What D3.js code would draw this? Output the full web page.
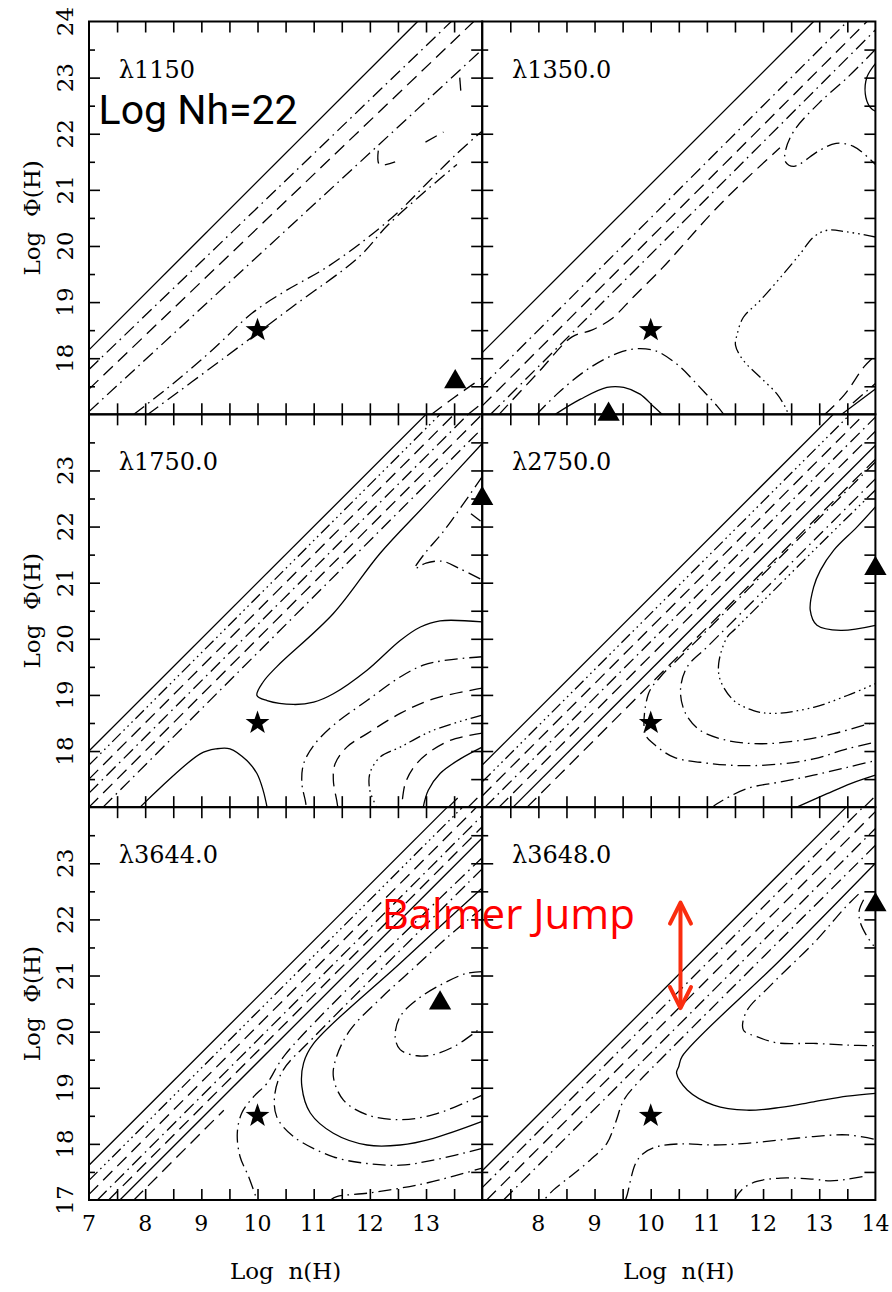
<!DOCTYPE html>
<html>
<head>
<meta charset="utf-8">
<script src="https://cdn.jsdelivr.net/npm/d3@7"></script>
<style>
  body { margin: 0; background: #fff; }
  svg { display: block; }
  .ser { font-family: "DejaVu Serif", "Liberation Serif", serif; fill: #000; }
  .sans { font-family: "Open Sans", "Noto Sans", sans-serif; }
  .note { font-family: Roboto, "Open Sans", sans-serif; }
</style>
</head>
<body>
<svg id="chart" width="892" height="1292"></svg>
<script>
// ---------- data (log n(H), log Φ(H)) ----------
const wavelengths = ["λ1150", "λ1350.0", "λ1750.0", "λ2750.0", "λ3644.0", "λ3648.0"];
const xTickLabelsLeft = [7, 8, 9, 10, 11, 12, 13];
const xTickLabelsRight = [8, 9, 10, 11, 12, 13, 14];
const yTickLabelsTop = [18, 19, 20, 21, 22, 23, 24];
const yTickLabelsMid = [18, 19, 20, 21, 22, 23];
const yTickLabelsBottom = [17, 18, 19, 20, 21, 22, 23];
const stars = [[10, 18.5], [10, 18.5], [10, 18.5], [10, 18.5], [10, 18.5], [10, 18.5]];
const triangles = [[13.52, 17.58], [9.25, 17.0], [14.0, 22.5], [14.0, 21.25], [13.25, 20.51], [14.0, 22.26]];

// contour lines; level picks the line style (1 solid, 2 dashed, 3 dash-dot, 5 dash-dot-dot-dot)
const contours1150 = [
  { level: 1, pts: [[7, 18.15], [12.85, 24]] },
  { level: 3, pts: [[7, 17.8], [13.45, 24]] },
  { level: 2, pts: [[7, 17.45], [13.85, 24]] },
  { level: 3, pts: [[7, 17.05], [14, 23.5]] },
  { level: 3, pts: [[7.8, 17.0], [8.5, 17.55], [9.2, 18.15], [9.9, 18.8], [10.5, 19.2], [11.2, 19.6], [11.9, 20.1], [12.5, 20.6], [13.0, 21.1], [13.5, 21.6], [14.0, 22.05]] },
  { level: 3, pts: [[8.05, 17.0], [9.4, 18.0], [10.6, 18.9], [11.8, 19.8], [12.3, 20.35], [12.9, 20.9], [13.55, 21.45]] },
  { level: 2, pts: [[12.15, 21.7], [12.17, 21.45], [12.45, 21.5]] },
  { level: 2, pts: [[12.99, 21.85], [13.31, 22.03]] },
  { level: 2, pts: [[13.6, 23.0], [13.62, 22.75]] },
  { level: 2, pts: [[13.1, 17.0], [13.5, 17.3], [14, 17.65]] },
  { level: 3, pts: [[13.75, 17.0], [14, 17.2]] }
];

const contours1350 = [
  { level: 1, pts: [[7, 18.1], [12.9, 24]] },
  { level: 3, pts: [[7, 17.5], [13.5, 24]] },
  { level: 2, pts: [[7, 17.15], [13.85, 24]] },
  { level: 3, pts: [[7.15, 17], [14, 23.85]] },
  { level: 3, pts: [[14.0, 23.5], [13.5, 23.0], [13.0, 22.55], [12.55, 22.05], [12.4, 21.7], [12.4, 21.5], [12.55, 21.42], [13.0, 21.7], [13.3, 21.83], [13.6, 21.78], [13.9, 21.55], [14, 21.45]] },
  { level: 1, pts: [[14.0, 23.25], [13.85, 23.01], [13.82, 22.71], [13.9, 22.48], [14.0, 22.4]] },
  { level: 2, pts: [[7.3, 17.0], [8.0, 17.75], [8.6, 18.38], [8.95, 18.5], [9.3, 18.7], [9.7, 19.1], [10.2, 19.6], [10.65, 20.1], [11.1, 20.6], [11.6, 21.1], [12.3, 21.75]] },
  { level: 3, pts: [[7.97, 17.0], [8.33, 17.36], [8.8, 17.75], [9.19, 17.99], [9.5, 18.12], [9.76, 18.17], [10.02, 18.15], [10.2, 18.08], [10.53, 17.84], [10.82, 17.54], [11.18, 17.15], [11.3, 17.0]] },
  { level: 1, pts: [[8.3, 17.0], [8.75, 17.27], [9.22, 17.48], [9.52, 17.48], [9.81, 17.36], [10.05, 17.14], [10.2, 17.0]] },
  { level: 5, pts: [[14.0, 20.16], [13.5, 20.25], [13.14, 20.28], [12.9, 20.16], [12.66, 19.86], [12.31, 19.44], [11.95, 19.03], [11.65, 18.73], [11.54, 18.43], [11.51, 18.23], [11.65, 17.96], [11.95, 17.66], [12.25, 17.36], [12.4, 17.12], [12.45, 17.0]] },
  { level: 1, pts: [[13.4, 17.0], [14, 17.45]] },
  { level: 2, pts: [[13.1, 17.0], [13.45, 17.35], [13.8, 17.85], [14, 18.05]] },
  { level: 3, pts: [[13.6, 17.2], [14, 17.55]] }
];

const contours1750 = [
  { level: 1, pts: [[7, 18], [13, 24]] },
  { level: 5, pts: [[7, 17.75], [13.25, 24]] },
  { level: 2, pts: [[7, 17.5], [13.5, 24]] },
  { level: 3, pts: [[7, 17.25], [13.75, 24]] },
  { level: 2, pts: [[7, 17], [14, 24]] },
  { level: 3, pts: [[7.25, 17], [14, 23.75]] },
  { level: 1, pts: [[14.0, 20.3], [13.25, 20.32], [12.9, 20.21], [12.54, 19.97], [11.95, 19.44], [11.35, 19.02], [11.0, 18.87], [10.64, 18.83], [10.17, 18.9], [9.99, 18.99], [10.1, 19.23], [10.34, 19.5], [11.35, 20.45], [12.18, 21.52], [13.0, 22.4], [14, 23.48]] },
  { level: 1, pts: [[7.91, 17.0], [8.98, 17.95], [9.27, 18.04], [9.51, 18.04], [9.81, 17.83], [9.99, 17.6], [10.1, 17.3], [10.17, 17.0]] },
  { level: 3, pts: [[14.0, 22.89], [13.3, 21.9], [13.0, 21.55], [12.8, 21.25], [13.0, 21.35], [13.3, 21.38], [13.6, 21.25], [14.0, 21.05]] },
  { level: 2, pts: [[13.8, 22.23], [13.97, 22.1]] },
  { level: 3, pts: [[14.0, 19.68], [13.37, 19.62], [12.95, 19.53], [12.54, 19.32], [11.95, 18.9], [11.35, 18.46], [11.0, 18.1], [10.82, 17.77], [10.79, 17.42], [10.85, 17.12], [10.87, 17.0]] },
  { level: 2, pts: [[14.0, 19.12], [13.13, 18.93], [12.54, 18.67], [11.95, 18.31], [11.59, 18.07], [11.38, 17.77], [11.35, 17.48], [11.41, 17.12], [11.43, 17.0]] },
  { level: 5, pts: [[14.0, 18.64], [13.13, 18.37], [12.54, 18.07], [12.18, 17.89], [12.0, 17.6], [12.0, 17.3], [12.09, 17.06], [12.11, 17.0]] },
  { level: 2, pts: [[14.0, 18.32], [13.43, 18.19], [13.02, 17.95], [12.78, 17.71], [12.63, 17.42], [12.57, 17.06], [12.56, 17.0]] },
  { level: 1, pts: [[14.0, 18.07], [13.61, 17.86], [13.25, 17.6], [13.04, 17.3], [12.95, 17.0]] },
  { level: 2, pts: [[13.4, 17.0], [13.65, 17.25]] },
  { level: 2, pts: [[13.75, 17.0], [14, 17.25]] }
];

const contours2750 = [
  { level: 1, pts: [[7, 17.75], [13.25, 24]] },
  { level: 5, pts: [[7, 17.45], [13.55, 24]] },
  { level: 2, pts: [[7, 17.2], [13.8, 24]] },
  { level: 3, pts: [[7.05, 17], [14, 23.95]] },
  { level: 2, pts: [[7.3, 17], [14, 23.7]] },
  { level: 1, pts: [[7.55, 17], [14, 23.45]] },
  { level: 2, pts: [[7.8, 17], [14, 23.2]] },
  { level: 3, pts: [[14.0, 23.15], [12.0, 21.15], [10.6, 19.75], [10.17, 19.32], [9.96, 19.02], [9.9, 18.31], [10.05, 18.13], [10.41, 17.89], [10.88, 17.8], [11.6, 17.74], [12.31, 17.77], [12.9, 17.86], [13.5, 18.04], [14.0, 18.16]] },
  { level: 3, pts: [[14.0, 22.85], [13.0, 21.85], [12.0, 20.85], [11.0, 19.85], [10.65, 19.5], [10.53, 19.08], [10.62, 18.67], [10.88, 18.37], [11.36, 18.19], [11.95, 18.13], [12.66, 18.19], [13.26, 18.31], [14.0, 18.52]] },
  { level: 5, pts: [[14.0, 22.65], [13.0, 21.67], [12.0, 20.67], [11.5, 20.17], [11.36, 20.03], [11.21, 19.56], [11.24, 19.26], [11.48, 18.9], [11.83, 18.72], [12.19, 18.67], [12.9, 18.78], [13.5, 18.99], [14.0, 19.2]] },
  { level: 1, pts: [[14.0, 22.35], [13.67, 21.99], [13.26, 21.58], [13.02, 21.22], [12.9, 20.92], [12.84, 20.51], [12.96, 20.24], [13.38, 20.15], [14.0, 20.24]] },
  { level: 3, pts: [[11.1, 17.0], [11.18, 17.06], [11.71, 17.33], [12.31, 17.45], [12.9, 17.57], [13.5, 17.71], [14.0, 17.83]] },
  { level: 1, pts: [[12.6, 17.0], [13.14, 17.24], [13.56, 17.42], [14.0, 17.57]] },
  { level: 2, pts: [[13.8, 17.0], [14, 17.2]] }
];

const contours3644 = [
  { level: 1, pts: [[7, 17.62], [13.38, 24]] },
  { level: 5, pts: [[7, 17.35], [13.65, 24]] },
  { level: 2, pts: [[7, 17.1], [13.9, 24]] },
  { level: 3, pts: [[7.15, 17], [14, 23.85]] },
  { level: 2, pts: [[7.35, 17], [14, 23.65]] },
  { level: 1, pts: [[7.55, 17], [14, 23.45]] },
  { level: 2, pts: [[7.8, 17], [9.4, 18.6]] },
  { level: 3, pts: [[14, 23.1], [10.5, 19.6], [10.17, 19.08], [9.93, 18.84], [9.72, 18.55], [9.64, 18.19], [9.69, 17.77], [9.84, 17.42], [9.99, 17.0]] },
  { level: 3, pts: [[14, 22.9], [11.0, 19.9], [10.46, 19.32], [10.31, 18.9], [10.34, 18.49], [10.64, 18.13], [11.35, 17.77], [11.95, 17.65], [12.54, 17.62], [13.13, 17.71], [14.0, 17.92]] },
  { level: 1, pts: [[14.0, 22.56], [12.54, 21.22], [11.0, 19.79], [10.82, 19.44], [10.79, 19.02], [10.94, 18.55], [11.35, 18.19], [11.95, 17.98], [12.54, 17.98], [13.13, 18.1], [14.0, 18.4]] },
  { level: 3, pts: [[14.0, 22.2], [13.4, 21.7], [12.8, 21.15], [12.2, 20.6], [11.65, 20.03], [11.41, 19.56], [11.35, 19.2], [11.53, 18.78], [11.95, 18.52], [12.54, 18.43], [13.13, 18.52], [13.73, 18.75], [14.0, 18.87]] },
  { level: 3, pts: [[14.0, 21.07], [13.73, 21.04], [13.31, 20.86], [12.84, 20.57], [12.54, 20.27], [12.45, 19.91], [12.54, 19.68], [12.84, 19.57], [13.13, 19.59], [13.49, 19.73], [13.85, 19.97], [14.0, 20.09]] },
  { level: 3, pts: [[11.3, 17.0], [11.41, 17.06], [11.95, 17.12], [12.54, 17.21], [13.13, 17.33], [14.0, 17.57]] }
];

const contours3648 = [
  { level: 1, pts: [[7, 17.52], [13.48, 24]] },
  { level: 3, pts: [[7, 17.22], [13.78, 24]] },
  { level: 2, pts: [[7.08, 17], [14, 23.92]] },
  { level: 3, pts: [[7.38, 17], [14, 23.62]] },
  { level: 3, pts: [[14, 23.32], [10.17, 19.5], [9.76, 19.08], [9.52, 18.78], [9.37, 18.37], [9.22, 18.01], [8.92, 17.71], [8.57, 17.42], [8.27, 17.18], [8.1, 17.0]] },
  { level: 1, pts: [[14.0, 23.0], [12.31, 21.28], [10.56, 19.56], [10.5, 19.38], [10.46, 19.26], [10.65, 18.96], [11.12, 18.69], [11.71, 18.6], [12.31, 18.65], [12.9, 18.75], [13.5, 18.85], [14.0, 18.9]] },
  { level: 3, pts: [[13.7, 22.45], [13.45, 22.2], [12.96, 21.64], [12.13, 20.82], [11.7, 20.35], [11.65, 20.03], [11.89, 19.91], [12.25, 19.8], [12.9, 19.79], [13.5, 19.76], [14.0, 19.75]] },
  { level: 3, pts: [[13.79, 22.35], [13.71, 22.15], [13.73, 21.95], [13.85, 21.7], [13.97, 21.53]] },
  { level: 3, pts: [[9.55, 17.0], [9.58, 17.09], [9.73, 17.65], [9.87, 17.83], [10.11, 17.95], [10.53, 18.0], [11.12, 17.98], [11.71, 18.01], [12.31, 18.07], [12.9, 18.13], [13.5, 18.16], [14.0, 18.08]] },
  { level: 3, pts: [[11.5, 17.0], [11.51, 17.03], [11.65, 17.21], [11.89, 17.33], [12.31, 17.39], [12.9, 17.37], [13.2, 17.34], [13.5, 17.37], [13.79, 17.42]] }
];

// annotation values
const balmerArrow = { logn: 10.53, from: 22.3, to: 20.42 };

// ---------- layout ----------
const plotLeft = 89, panelW = 393.2, plotTop = 21.5, panelH = 392.83;
const dash = { 1: null, 2: "13,7", 3: "13,5,1.6,5", 5: "12,4,1.6,4,1.6,4,1.6,4" };

const svg = d3.select("#chart");
svg.append("rect").attr("width", 892).attr("height", 1292).attr("fill", "#fff");

const panelContours = [contours1150, contours1350, contours1750, contours2750, contours3644, contours3648];
const rowYLabels = [yTickLabelsTop, yTickLabelsMid, yTickLabelsBottom];

function starPath(R, r) {
  const pts = [];
  for (let i = 0; i < 10; i++) {
    const a = -Math.PI / 2 + i * Math.PI / 5;
    const rad = i % 2 === 0 ? R : r;
    pts.push([rad * Math.cos(a), rad * Math.sin(a)]);
  }
  return "M" + pts.map(p => p[0].toFixed(2) + "," + p[1].toFixed(2)).join("L") + "Z";
}

const scales = [];
panelContours.forEach((contours, i) => {
  const col = i % 2, row = Math.floor(i / 2);
  const x0 = plotLeft + col * panelW, y0 = plotTop + row * panelH;
  const x = d3.scaleLinear().domain([7, 14]).range([x0, x0 + panelW]);
  const y = d3.scaleLinear().domain([17, 24]).range([y0 + panelH, y0]);
  scales.push({ x, y });

  const g = svg.append("g");
  const clipId = "clip" + i;
  svg.append("clipPath").attr("id", clipId)
    .append("rect").attr("x", x0).attr("y", y0).attr("width", panelW).attr("height", panelH);

  const line = d3.line().x(d => x(d[0])).y(d => y(d[1])).curve(d3.curveCatmullRom.alpha(0.5));
  g.append("g").attr("clip-path", `url(#${clipId})`)
    .selectAll("path").data(contours).join("path")
    .attr("d", d => line(d.pts))
    .attr("fill", "none").attr("stroke", "#000").attr("stroke-width", 1.3)
    .attr("stroke-dasharray", d => dash[d.level]);

  // ticks (inward on all sides)
  const minorX = d3.range(7.5, 14, 0.5);
  const axB = g.append("g").attr("transform", `translate(0,${y0 + panelH})`)
    .call(d3.axisBottom(x).tickValues(minorX).tickSize(-11).tickFormat(""));
  const axT = g.append("g").attr("transform", `translate(0,${y0})`)
    .call(d3.axisTop(x).tickValues(minorX).tickSize(-11).tickFormat(""));
  const majorY = d3.range(18, 24, 1), halfY = d3.range(17.5, 24, 1);
  const axL1 = g.append("g").attr("transform", `translate(${x0},0)`)
    .call(d3.axisLeft(y).tickValues(majorY).tickSize(-11).tickFormat(""));
  const axL2 = g.append("g").attr("transform", `translate(${x0},0)`)
    .call(d3.axisLeft(y).tickValues(halfY).tickSize(-6).tickFormat(""));
  const axR = g.append("g").attr("transform", `translate(${x0 + panelW},0)`)
    .call(d3.axisRight(y).tickValues(d3.range(17.5, 24, 0.5)).tickSize(-11).tickFormat(""));
  [axB, axT, axL1, axL2, axR].forEach(a => {
    a.select(".domain").remove();
    a.selectAll("line").attr("stroke", "#000").attr("stroke-width", 1.6);
  });

  g.append("rect").attr("x", x0).attr("y", y0).attr("width", panelW).attr("height", panelH)
    .attr("fill", "none").attr("stroke", "#000").attr("stroke-width", 2);

  // wavelength label
  g.append("text").attr("class", "ser").attr("x", x(7.53)).attr("y", y(23))
    .attr("font-size", 24).text(wavelengths[i]);

  // markers
  g.append("path").attr("d", starPath(12.5, 5))
    .attr("transform", `translate(${x(stars[i][0])},${y(stars[i][1])})`).attr("fill", "#000");
  g.append("path").attr("d", d3.symbol(d3.symbolTriangle, 215)())
    .attr("transform", `translate(${x(triangles[i][0])},${y(triangles[i][1])})`).attr("fill", "#000");

  // y tick labels & title on left column
  if (col === 0) {
    rowYLabels[row].forEach(v => {
      g.append("text").attr("class", "ser").attr("font-size", 23)
        .attr("text-anchor", "middle")
        .attr("transform", `translate(${x0 - 16},${y(v)}) rotate(-90)`).text(v);
    });
    g.append("text").attr("class", "ser").attr("font-size", 23)
      .attr("text-anchor", "middle").attr("xml:space", "preserve")
      .attr("transform", `translate(${x0 - 49},${(y0 + y0 + panelH) / 2}) rotate(-90)`)
      .text("Log  Φ(H)");
  }
  // x tick labels & title on bottom row
  if (row === 2) {
    (col === 0 ? xTickLabelsLeft : xTickLabelsRight).forEach(v => {
      g.append("text").attr("class", "ser").attr("font-size", 22)
        .attr("text-anchor", "middle").attr("x", x(v)).attr("y", y0 + panelH + 31).text(v);
    });
    g.append("text").attr("class", "ser").attr("font-size", 23)
      .attr("text-anchor", "middle").attr("xml:space", "preserve")
      .attr("x", (x0 + x0 + panelW) / 2).attr("y", y0 + panelH + 79).text("Log  n(H)");
  }
});

// column density note
const s0 = scales[0];
svg.append("text").attr("class", "note").attr("x", s0.x(7.17)).attr("y", s0.y(22.18))
  .attr("font-size", 41).attr("fill", "#000").text("Log Nh=22");

// Balmer jump annotation
const s4 = scales[4], s5 = scales[5];
svg.append("text").attr("class", "sans").attr("x", s4.x(12.21)).attr("y", s4.y(21.82))
  .attr("font-size", 42).attr("fill", "#ff0000").text("Balmer Jump");

const ax = s5.x(balmerArrow.logn), ay1 = s5.y(balmerArrow.from), ay2 = s5.y(balmerArrow.to);
const arrow = svg.append("g").attr("stroke", "#fa2d0f").attr("stroke-width", 4)
  .attr("fill", "none").attr("stroke-linecap", "round").attr("stroke-linejoin", "round");
arrow.append("line").attr("x1", ax).attr("x2", ax).attr("y1", ay1 + 2).attr("y2", ay2 - 2);
arrow.append("path").attr("d", `M${ax - 10.5},${ay1 + 21}L${ax},${ay1}L${ax + 10.5},${ay1 + 21}`);
arrow.append("path").attr("d", `M${ax - 10.5},${ay2 - 21}L${ax},${ay2}L${ax + 10.5},${ay2 - 21}`);
</script>
</body>
</html>
